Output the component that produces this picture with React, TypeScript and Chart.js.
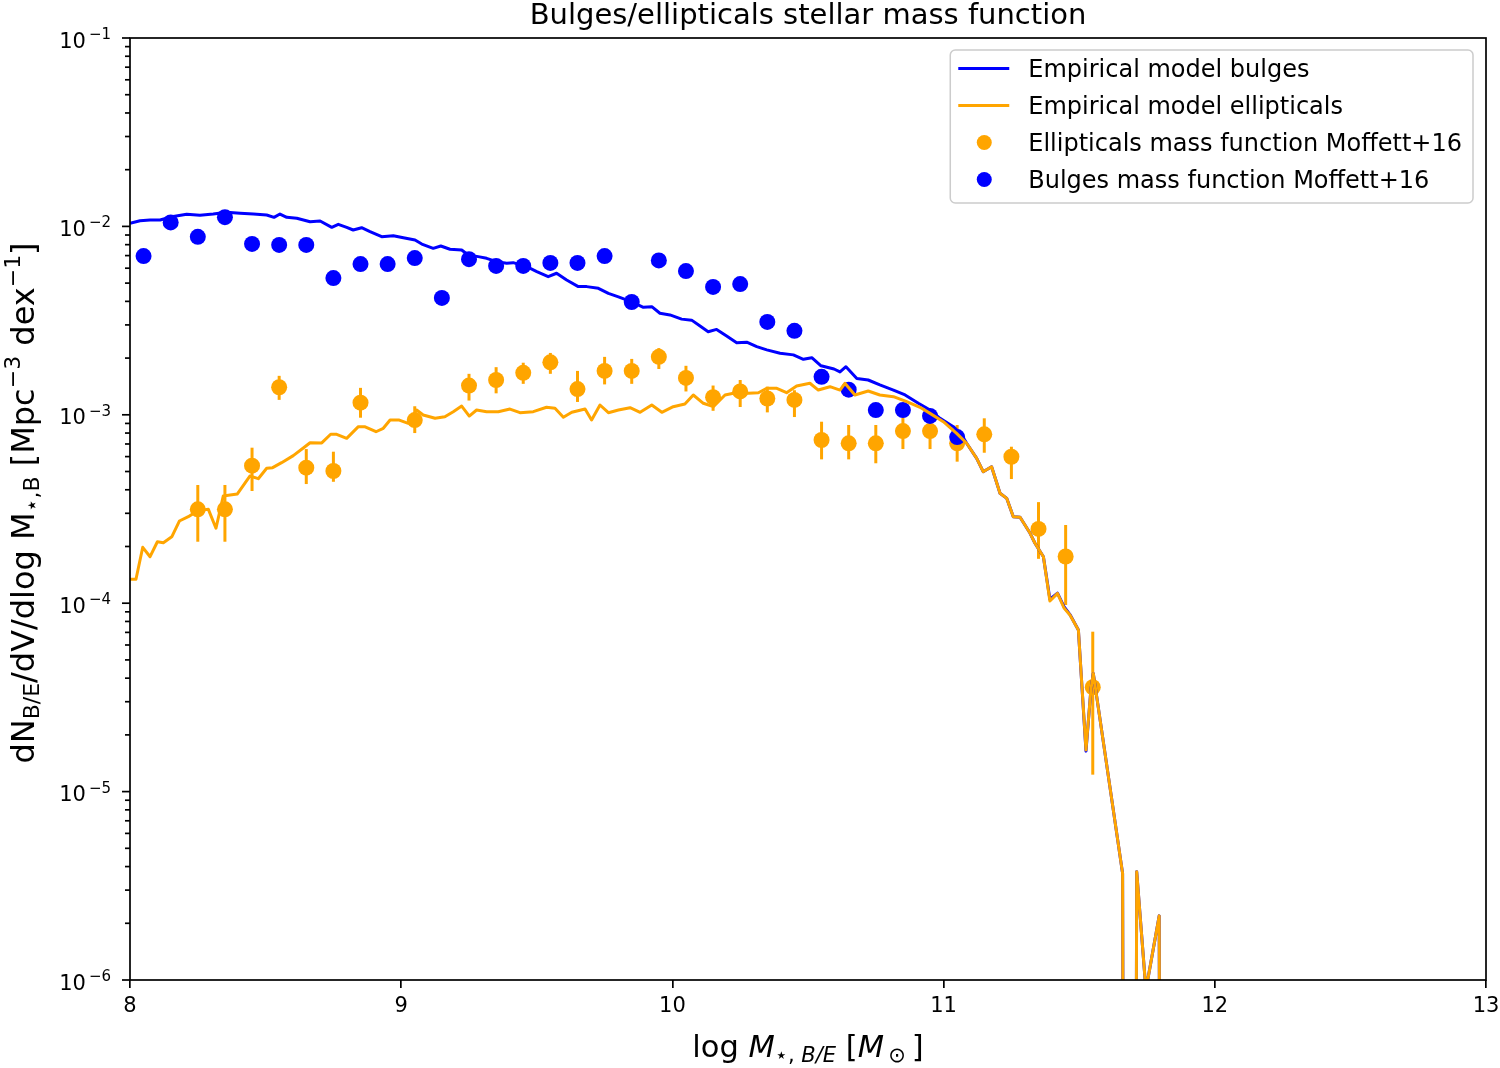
import { useEffect, useRef } from 'react';
import { Chart, registerables } from 'chart.js';

Chart.register(...registerables);

const BLUE = '#0000ff';
const ORANGE = '#ffa500';
const FONT = '"DejaVu Sans", sans-serif';

// empirical model curves, [log M, dN/dV/dlogM]; 0 means an empty bin
const bulgeModel: [number, number][] = [
  [8.0, 1.039e-2], [8.037, 1.072e-2], [8.074, 1.081e-2], [8.111, 1.081e-2], [8.154, 1.126e-2],
  [8.209, 1.159e-2], [8.258, 1.145e-2], [8.307, 1.163e-2], [8.357, 1.188e-2], [8.406, 1.174e-2],
  [8.455, 1.163e-2], [8.504, 1.149e-2], [8.531, 1.117e-2], [8.553, 1.163e-2], [8.578, 1.117e-2],
  [8.615, 1.104e-2], [8.664, 1.059e-2], [8.701, 1.068e-2], [8.744, 9.89e-3], [8.768, 1.026e-2],
  [8.799, 9.89e-3], [8.823, 9.57e-3], [8.854, 9.84e-3], [8.885, 9.37e-3], [8.928, 8.82e-3],
  [8.971, 8.93e-3], [9.008, 8.71e-3], [9.051, 8.47e-3], [9.076, 8.06e-3], [9.118, 7.65e-3],
  [9.146, 7.87e-3], [9.18, 7.56e-3], [9.223, 7.49e-3], [9.247, 7.05e-3], [9.284, 6.91e-3],
  [9.315, 6.77e-3], [9.352, 6.5e-3], [9.389, 6.37e-3], [9.413, 6.42e-3], [9.463, 6.11e-3],
  [9.5, 5.75e-3], [9.542, 5.41e-3], [9.573, 5.64e-3], [9.61, 5.19e-3], [9.653, 4.79e-3],
  [9.684, 4.79e-3], [9.727, 4.69e-3], [9.764, 4.41e-3], [9.801, 4.23e-3], [9.85, 3.98e-3],
  [9.893, 3.72e-3], [9.924, 3.75e-3], [9.954, 3.46e-3], [9.991, 3.39e-3], [10.034, 3.22e-3],
  [10.071, 3.18e-3], [10.102, 2.96e-3], [10.132, 2.76e-3], [10.163, 2.84e-3], [10.2, 2.62e-3],
  [10.237, 2.41e-3], [10.274, 2.43e-3], [10.311, 2.3e-3], [10.348, 2.21e-3], [10.397, 2.12e-3],
  [10.446, 2.08e-3], [10.483, 1.97e-3], [10.514, 2.01e-3], [10.548, 1.82e-3], [10.596, 1.75e-3],
  [10.618, 1.69e-3], [10.64, 1.8e-3], [10.68, 1.56e-3], [10.722, 1.53e-3], [10.765, 1.44e-3],
  [10.815, 1.353e-3], [10.858, 1.274e-3], [10.907, 1.151e-3], [10.95, 1.06e-3], [10.987, 9.58e-4],
  [11.036, 8.65e-4], [11.067, 7.81e-4], [11.085, 7.06e-4], [11.122, 5.87e-4], [11.146, 4.99e-4],
  [11.177, 5.3e-4], [11.208, 3.83e-4], [11.233, 3.6e-4], [11.257, 2.88e-4], [11.282, 2.86e-4],
  [11.319, 2.35e-4], [11.337, 2.08e-4], [11.368, 1.765e-4], [11.392, 1.05e-4], [11.42, 1.13e-4],
  [11.444, 9.6e-5], [11.466, 8.7e-5], [11.497, 7.21e-5], [11.525, 1.64e-5], [11.543, 3.46e-5],
  [11.552, 4.24e-5], [11.66, 3.68e-6], [11.686, 0], [11.712, 3.76e-6], [11.746, 8.85e-7],
  [11.795, 2.19e-6], [11.816, 0],
];

const ellipticalModel: [number, number][] = [
  [8.0, 1.34e-4], [8.022, 1.34e-4], [8.047, 1.98e-4], [8.074, 1.765e-4], [8.101, 2.12e-4],
  [8.123, 2.095e-4], [8.154, 2.25e-4], [8.182, 2.73e-4], [8.215, 2.88e-4], [8.25, 3.1e-4],
  [8.289, 3.15e-4], [8.317, 2.5e-4], [8.344, 3.71e-4], [8.369, 3.75e-4], [8.396, 3.8e-4],
  [8.442, 4.73e-4], [8.473, 4.58e-4], [8.504, 5.2e-4], [8.526, 5.24e-4], [8.559, 5.57e-4],
  [8.602, 6.07e-4], [8.645, 6.77e-4], [8.664, 7.11e-4], [8.707, 7.09e-4], [8.74, 7.88e-4],
  [8.762, 7.88e-4], [8.799, 7.5e-4], [8.842, 8.65e-4], [8.867, 8.63e-4], [8.907, 8.13e-4],
  [8.934, 8.48e-4], [8.959, 9.38e-4], [8.993, 9.38e-4], [9.026, 9.01e-4], [9.057, 1.06e-3],
  [9.081, 9.98e-4], [9.125, 9.58e-4], [9.161, 9.77e-4], [9.192, 1.039e-3], [9.223, 1.113e-3],
  [9.251, 9.85e-4], [9.278, 1.06e-3], [9.315, 1.039e-3], [9.358, 1.039e-3], [9.401, 1.073e-3],
  [9.438, 1.026e-3], [9.487, 1.039e-3], [9.536, 1.096e-3], [9.567, 1.083e-3], [9.598, 9.7e-4],
  [9.629, 1.031e-3], [9.678, 1.073e-3], [9.702, 9.38e-4], [9.733, 1.127e-3], [9.764, 1.026e-3],
  [9.801, 1.06e-3], [9.844, 1.091e-3], [9.881, 1.031e-3], [9.924, 1.127e-3], [9.961, 1.031e-3],
  [10.003, 1.104e-3], [10.046, 1.141e-3], [10.077, 1.274e-3], [10.114, 1.151e-3], [10.151, 1.104e-3],
  [10.194, 1.274e-3], [10.225, 1.3e-3], [10.28, 1.3e-3], [10.317, 1.31e-3], [10.348, 1.382e-3],
  [10.385, 1.382e-3], [10.421, 1.31e-3], [10.458, 1.422e-3], [10.507, 1.47e-3], [10.538, 1.353e-3],
  [10.581, 1.41e-3], [10.618, 1.353e-3], [10.636, 1.47e-3], [10.673, 1.274e-3], [10.722, 1.337e-3],
  [10.765, 1.274e-3], [10.815, 1.248e-3], [10.864, 1.174e-3], [10.913, 1.096e-3], [10.95, 1.018e-3],
  [10.999, 9.19e-4], [11.048, 7.97e-4], [11.085, 7.06e-4], [11.122, 5.87e-4], [11.146, 4.99e-4],
  [11.177, 5.3e-4], [11.208, 3.83e-4], [11.233, 3.6e-4], [11.257, 2.88e-4], [11.282, 2.86e-4],
  [11.319, 2.35e-4], [11.337, 2.08e-4], [11.368, 1.765e-4], [11.392, 1.027e-4], [11.42, 1.128e-4],
  [11.444, 9.43e-5], [11.466, 8.66e-5], [11.497, 7.21e-5], [11.525, 1.663e-5], [11.543, 3.46e-5],
  [11.552, 4.24e-5], [11.66, 3.68e-6], [11.686, 0], [11.712, 3.76e-6], [11.746, 8.85e-7],
  [11.795, 2.19e-6], [11.816, 0],
];

// Moffett+16 measurements
const bulgeObsX = [
  8.05, 8.15, 8.25, 8.35, 8.45, 8.55, 8.65, 8.75, 8.85, 8.95, 9.05, 9.15, 9.25, 9.35, 9.45, 9.55,
  9.65, 9.75, 9.85, 9.95, 10.05, 10.15, 10.25, 10.35, 10.45, 10.55, 10.65, 10.75, 10.85, 10.95, 11.05,
];
const bulgeObsY = [
  6.96e-3, 1.05e-2, 8.8e-3, 1.12e-2, 8.07e-3, 7.97e-3, 7.97e-3, 5.32e-3, 6.31e-3, 6.31e-3, 6.79e-3,
  4.17e-3, 6.7e-3, 6.17e-3, 6.17e-3, 6.4e-3, 6.4e-3, 6.96e-3, 3.97e-3, 6.6e-3, 5.79e-3, 4.77e-3,
  4.94e-3, 3.11e-3, 2.79e-3, 1.59e-3, 1.36e-3, 1.06e-3, 1.06e-3, 9.86e-4, 7.62e-4,
];

const ellObsX = [
  8.25, 8.35, 8.45, 8.55, 8.65, 8.75, 8.85, 9.05, 9.25, 9.35, 9.45, 9.55, 9.65, 9.75, 9.85, 9.95,
  10.05, 10.15, 10.25, 10.35, 10.45, 10.55, 10.65, 10.75, 10.85, 10.95, 11.05, 11.15, 11.25, 11.35,
  11.45, 11.55,
];
const ellObsY = [
  3.15e-4, 3.15e-4, 5.37e-4, 1.4e-3, 5.24e-4, 5.03e-4, 1.16e-3, 9.38e-4, 1.43e-3, 1.53e-3, 1.67e-3,
  1.9e-3, 1.37e-3, 1.71e-3, 1.71e-3, 2.03e-3, 1.57e-3, 1.24e-3, 1.33e-3, 1.22e-3, 1.2e-3, 7.35e-4,
  7.06e-4, 7.06e-4, 8.2e-4, 8.2e-4, 7.06e-4, 7.88e-4, 5.99e-4, 2.48e-4, 1.77e-4, 3.58e-5,
];
const ellObsLo = [
  2.12e-4, 2.12e-4, 3.94e-4, 1.2e-3, 4.29e-4, 4.41e-4, 9.65e-4, 8.0e-4, 1.19e-3, 1.3e-3, 1.46e-3,
  1.65e-3, 1.17e-3, 1.45e-3, 1.46e-3, 1.75e-3, 1.33e-3, 1.05e-3, 1.1e-3, 1.03e-3, 9.73e-4, 5.8e-4,
  5.8e-4, 5.53e-4, 6.58e-4, 6.58e-4, 5.64e-4, 6.29e-4, 4.56e-4, 1.72e-4, 9.78e-5, 1.23e-5,
];
const ellObsHi = [
  4.24e-4, 4.24e-4, 6.69e-4, 1.61e-3, 6.58e-4, 6.37e-4, 1.39e-3, 1.11e-3, 1.65e-3, 1.79e-3, 1.89e-3,
  2.13e-3, 1.71e-3, 2.03e-3, 1.98e-3, 2.26e-3, 1.82e-3, 1.43e-3, 1.53e-3, 1.41e-3, 1.35e-3, 9.19e-4,
  8.83e-4, 8.83e-4, 9.7e-4, 9.7e-4, 8.83e-4, 9.58e-4, 6.77e-4, 3.44e-4, 2.6e-4, 7.06e-5,
];

const xTicks = [8, 9, 10, 11, 12, 13];
const yDecades = [-6, -5, -4, -3, -2, -1];

const TITLE = 'Bulges/ellipticals stellar mass function';
const ELL_OBS_LABEL = 'Ellipticals mass function Moffett+16';

type Run = { text: string; size: number; dy?: number; italic?: boolean };

function drawRuns(ctx: CanvasRenderingContext2D, runs: Run[], x: number, y: number, align: 'left' | 'center' | 'right') {
  const fontOf = (r: Run) => `${r.italic ? 'italic ' : ''}${r.size}px ${FONT}`;
  const widths = runs.map((r) => {
    ctx.font = fontOf(r);
    return ctx.measureText(r.text).width;
  });
  const total = widths.reduce((s, w) => s + w, 0);
  let cx = align === 'center' ? x - total / 2 : align === 'right' ? x - total : x;
  ctx.textAlign = 'left';
  ctx.textBaseline = 'alphabetic';
  runs.forEach((r, i) => {
    ctx.font = fontOf(r);
    ctx.fillText(r.text, cx, y + (r.dy || 0));
    cx += widths[i];
  });
}

// log y: matplotlib clips empty bins far below the axis
const clipZero = (v: number) => (v > 0 ? v : 1e-20);

const decor = {
  id: 'decor',
  beforeDatasetDraw(chart: any, args: any) {
    if (chart.data.datasets[args.index].label !== ELL_OBS_LABEL) return;
    const { ctx, chartArea: a, scales } = chart;
    ctx.save();
    ctx.beginPath();
    ctx.rect(a.left, a.top, a.right - a.left, a.bottom - a.top);
    ctx.clip();
    ctx.strokeStyle = ORANGE;
    ctx.lineWidth = 3;
    ellObsX.forEach((v, i) => {
      const px = scales.x.getPixelForValue(v);
      ctx.beginPath();
      ctx.moveTo(px, scales.y.getPixelForValue(ellObsLo[i]));
      ctx.lineTo(px, scales.y.getPixelForValue(ellObsHi[i]));
      ctx.stroke();
    });
    ctx.restore();
  },
  afterDraw(chart: any) {
    const { ctx, chartArea: a, scales } = chart;
    ctx.save();
    ctx.fillStyle = '#000';
    ctx.strokeStyle = '#000';
    ctx.lineWidth = 1.7;

    // frame
    ctx.strokeRect(a.left, a.top, a.right - a.left, a.bottom - a.top);

    // y ticks, major and minor, with 10^n labels
    yDecades.forEach((d) => {
      for (let k = 1; k <= 9; k++) {
        if (d === -1 && k > 1) break;
        const py = scales.y.getPixelForValue(k * Math.pow(10, d));
        const len = k === 1 ? 8 : 5;
        ctx.beginPath();
        ctx.moveTo(a.left - len, py);
        ctx.lineTo(a.left, py);
        ctx.stroke();
      }
      const py = scales.y.getPixelForValue(Math.pow(10, d));
      drawRuns(ctx, [
        { text: '10', size: 21 },
        { text: '\u2009\u2212' + String(-d), size: 15, dy: -8.5 },
      ], a.left - 19, py + 9.5, 'right');
    });

    // title
    drawRuns(ctx, [{ text: TITLE, size: 29 }], (a.left + a.right) / 2, 24, 'center');

    // x label
    drawRuns(ctx, [
      { text: 'log ', size: 30.5 },
      { text: 'M', size: 30.5, italic: true },
      { text: '\u22c6, ', size: 21, dy: 5 },
      { text: 'B/E', size: 21, dy: 5, italic: true },
      { text: ' [', size: 30.5 },
      { text: 'M', size: 30.5, italic: true },
      { text: '\u2009\u2299', size: 21, dy: 5 },
      { text: '\u2009]', size: 30.5 },
    ], (a.left + a.right) / 2, 1057, 'center');

    // y label
    ctx.save();
    ctx.translate(34, (a.top + a.bottom) / 2 - 6);
    ctx.rotate(-Math.PI / 2);
    drawRuns(ctx, [
      { text: 'dN', size: 32 },
      { text: 'B/E', size: 22, dy: 5 },
      { text: '/dV/dlog M', size: 32 },
      { text: '\u22c6,B', size: 22, dy: 5 },
      { text: ' [Mpc', size: 32 },
      { text: '\u22123', size: 22, dy: -14 },
      { text: ' dex', size: 32 },
      { text: '\u22121', size: 22, dy: -14 },
      { text: ']', size: 32 },
    ], 0, 0, 'center');
    ctx.restore();

    // legend
    const datasets = chart.data.datasets;
    ctx.font = `24px ${FONT}`;
    const maxText = Math.max(...datasets.map((ds: any) => ctx.measureText(ds.label).width));
    const boxW = 78 + maxText + 11;
    const boxR = a.right - 13;
    const boxL = boxR - boxW;
    const boxT = a.top + 12;
    const rowH = 37;
    const boxH = 153;
    ctx.beginPath();
    ctx.roundRect(boxL, boxT, boxW, boxH, 5);
    ctx.fillStyle = 'rgba(255,255,255,0.8)';
    ctx.fill();
    ctx.strokeStyle = '#cccccc';
    ctx.lineWidth = 1.5;
    ctx.stroke();
    datasets.forEach((ds: any, i: number) => {
      const base = boxT + 26.5 + i * rowH;
      const mid = base - 8;
      if (ds.showLine) {
        ctx.strokeStyle = ds.borderColor;
        ctx.lineWidth = 3;
        ctx.beginPath();
        ctx.moveTo(boxL + 8, mid);
        ctx.lineTo(boxL + 59, mid);
        ctx.stroke();
      } else {
        ctx.fillStyle = ds.backgroundColor;
        ctx.beginPath();
        ctx.arc(boxL + 34, mid, 7.5, 0, Math.PI * 2);
        ctx.fill();
      }
      ctx.fillStyle = '#000';
      drawRuns(ctx, [{ text: ds.label, size: 24 }], boxL + 78, base, 'left');
    });
    ctx.restore();
  },
};

export default function App() {
  const canvasRef = useRef<HTMLCanvasElement | null>(null);

  useEffect(() => {
    if (canvasRef.current === null) return () => {};
    const chart = new Chart(canvasRef.current, {
      type: 'scatter',
      data: {
        datasets: [
          {
            label: 'Empirical model bulges',
            data: bulgeModel.map(([x, y]) => ({ x, y: clipZero(y) })),
            showLine: true,
            borderColor: BLUE,
            backgroundColor: BLUE,
            borderWidth: 3,
            borderJoinStyle: 'round',
            pointRadius: 0,
            order: 2,
          },
          {
            label: 'Empirical model ellipticals',
            data: ellipticalModel.map(([x, y]) => ({ x, y: clipZero(y) })),
            showLine: true,
            borderColor: ORANGE,
            backgroundColor: ORANGE,
            borderWidth: 3,
            borderJoinStyle: 'round',
            pointRadius: 0,
            order: 1,
          },
          {
            label: ELL_OBS_LABEL,
            data: ellObsX.map((x, i) => ({ x, y: ellObsY[i] })),
            backgroundColor: ORANGE,
            borderWidth: 0,
            pointRadius: 8,
            order: 4,
          },
          {
            label: 'Bulges mass function Moffett+16',
            data: bulgeObsX.map((x, i) => ({ x, y: bulgeObsY[i] })),
            backgroundColor: BLUE,
            borderWidth: 0,
            pointRadius: 8,
            order: 3,
          },
        ],
      },
      options: {
        animation: false,
        responsive: true,
        maintainAspectRatio: false,
        layout: { padding: { top: 38, right: 14, left: 0, bottom: 0 } },
        plugins: {
          legend: { display: false },
          title: { display: false },
          tooltip: { enabled: false },
        },
        scales: {
          x: {
            type: 'linear',
            min: 8,
            max: 13,
            afterBuildTicks: (scale: any) => {
              scale.ticks = xTicks.map((v) => ({ value: v }));
            },
            afterFit: (scale: any) => {
              scale.height = 88;
              scale.paddingLeft = 0;
              scale.paddingRight = 0;
            },
            ticks: {
              color: '#000',
              font: { family: FONT, size: 21 },
              padding: 6,
              callback: (v: any) => String(v),
            },
            grid: {
              drawOnChartArea: false,
              drawTicks: true,
              tickLength: 8,
              tickWidth: 1.7,
              tickColor: '#000',
              lineWidth: 1.7,
            },
            border: { display: false },
          },
          y: {
            type: 'logarithmic',
            min: 1e-6,
            max: 1e-1,
            afterFit: (scale: any) => {
              scale.width = 130;
            },
            ticks: { display: false },
            grid: { display: false },
            border: { display: false },
          },
        },
      },
      plugins: [decor],
    } as any);
    return () => {
      chart.destroy();
    };
  }, []);

  return (
    <div style={{ position: 'fixed', left: 0, top: 0, width: 1500, height: 1068, background: '#fff' }}>
      <canvas ref={canvasRef} />
    </div>
  );
}
